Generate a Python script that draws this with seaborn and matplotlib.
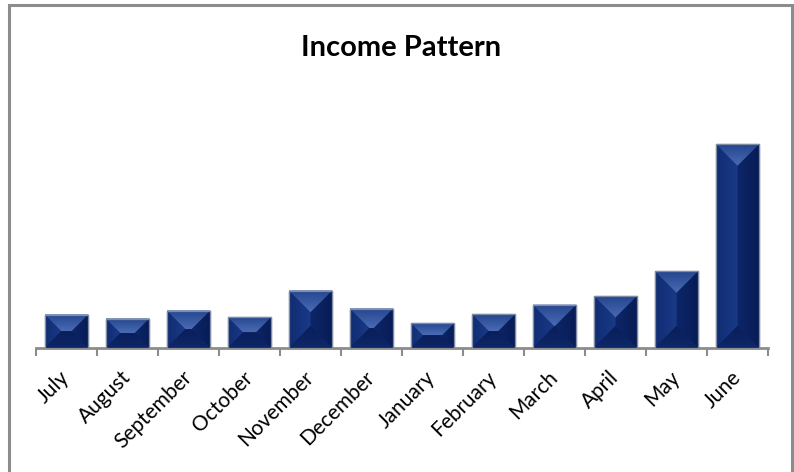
""" Income pattern bar chart with bevelled bars (Excel look)
"""

import numpy as np
import pandas as pd
import matplotlib
matplotlib.use('Agg')
import matplotlib.pyplot as plt
from matplotlib.patches import Polygon, Rectangle
from matplotlib.colors import LinearSegmentedColormap
import seaborn as sns

# Data (arbitrary units, axis values are not shown)
months = ['July', 'August', 'September', 'October', 'November', 'December',
          'January', 'February', 'March', 'April', 'May', 'June']
income = [33.5, 29.5, 37.5, 31.0, 57.5, 39.5, 25.0, 34.0, 43.3, 52.3, 77.0,
          204.0]
y_max = 308.0

title = 'Income Pattern'


def grad_fill(ax, verts, c0, c1, direction='v', zorder=3):
    """Fill a polygon with a linear gradient, c0 -> c1."""
    verts = np.asarray(verts)
    xmin, ymin = verts.min(axis=0)
    xmax, ymax = verts.max(axis=0)
    cmap = LinearSegmentedColormap.from_list('g', [c0, c1])
    g = np.linspace(0, 1, 64)
    if direction == 'v':
        img = g[::-1].reshape(-1, 1)   # c0 at top
    else:
        img = g.reshape(1, -1)         # c0 at left
    im = ax.imshow(img, cmap=cmap, vmin=0, vmax=1, aspect='auto',
                   extent=(xmin, xmax, ymin, ymax), origin='upper',
                   interpolation='bilinear', zorder=zorder)
    poly = Polygon(verts, closed=True, facecolor='none', edgecolor='none')
    ax.add_patch(poly)
    im.set_clip_path(poly)


if __name__ == '__main__':

    df = pd.DataFrame({'month': months, 'income': income})

    sns.set_style('white')
    plt.rcParams['font.family'] = ['Lato', 'DejaVu Sans']

    W, H = 794, 472
    fig = plt.figure(figsize=(W / 100, H / 100), dpi=100)
    ax_l, ax_r, ax_b, ax_t = 36, 768, 348, 40
    ax = fig.add_axes([ax_l / W, 1 - ax_b / H, (ax_r - ax_l) / W,
                       (ax_b - ax_t) / H])

    sns.barplot(data=df, x='month', y='income', color='#0e2a6c',
                width=0.72, saturation=1, ax=ax, zorder=2)

    ax.set_xlim(-0.5, len(months) - 0.5)
    ax.set_ylim(0, y_max)

    # pixel scale for 45 degree bevels
    sx = (ax_r - ax_l) / len(months)
    sy = (ax_b - ax_t) / y_max

    for p in ax.patches[:len(months)]:
        x0, y0 = p.get_x(), p.get_y()
        x1, y1 = x0 + p.get_width(), y0 + p.get_height()
        w_px = p.get_width() * sx
        h_px = p.get_height() * sy
        d = min(w_px / 2, h_px / 2, 22)
        dx, dy = d / sx, d / sy
        p.set_edgecolor('#8390a8')
        p.set_linewidth(1.0)
        # face
        grad_fill(ax, [(x0 + dx, y0 + dy), (x1 - dx, y0 + dy),
                       (x1 - dx, y1 - dy), (x0 + dx, y1 - dy)],
                  '#143281', '#0b2261', direction='h')
        # top bevel
        grad_fill(ax, [(x0, y1), (x1, y1), (x1 - dx, y1 - dy),
                       (x0 + dx, y1 - dy)], '#4a6bb3', '#24468f')
        # left bevel
        grad_fill(ax, [(x0, y0), (x0 + dx, y0 + dy), (x0 + dx, y1 - dy),
                       (x0, y1)], '#102c72', '#1a3a88', direction='h')
        # right bevel
        grad_fill(ax, [(x1, y0), (x1 - dx, y0 + dy), (x1 - dx, y1 - dy),
                       (x1, y1)], '#0d2668', '#081c55', direction='h')
        # bottom bevel
        grad_fill(ax, [(x0, y0), (x1, y0), (x1 - dx, y0 + dy),
                       (x0 + dx, y0 + dy)], '#0d2769', '#0a1f5a')
        # outline on top
        ax.add_patch(Rectangle((x0, y0), x1 - x0, y1 - y0, fill=False,
                               edgecolor='#7f8ca4', lw=0.9, zorder=4))

    # axes look
    for s in ['top', 'right', 'left']:
        ax.spines[s].set_visible(False)
    ax.spines['bottom'].set_color('#8c8c8c')
    ax.spines['bottom'].set_linewidth(2)
    ax.set_yticks([])
    ax.set_xlabel('')
    ax.set_ylabel('')
    ax.set_xticks(range(len(months)))
    ax.set_xticklabels(months, rotation=45, ha='right', va='center',
                       rotation_mode='anchor')
    ax.set_xticks(np.arange(-0.5, len(months)), minor=True)
    ax.tick_params(axis='x', which='minor', bottom=True, length=6, width=1.5,
                   color='#8c8c8c', direction='out')
    ax.tick_params(axis='x', which='major', bottom=True, length=0, pad=19,
                   labelsize=15, labelcolor='black')

    fig.text(401 / W, 1 - 48 / H, title, ha='center', va='center',
             fontsize=21, fontweight='bold', color='black')

    # chart frame
    fig.patches.append(Rectangle((9 / W, -0.02), (792 - 9) / W,
                                 1.02 - 5 / H, transform=fig.transFigure,
                                 fill=False, edgecolor='#8c8c8c', lw=2.2))

    plt.savefig('out.png', dpi=100)
